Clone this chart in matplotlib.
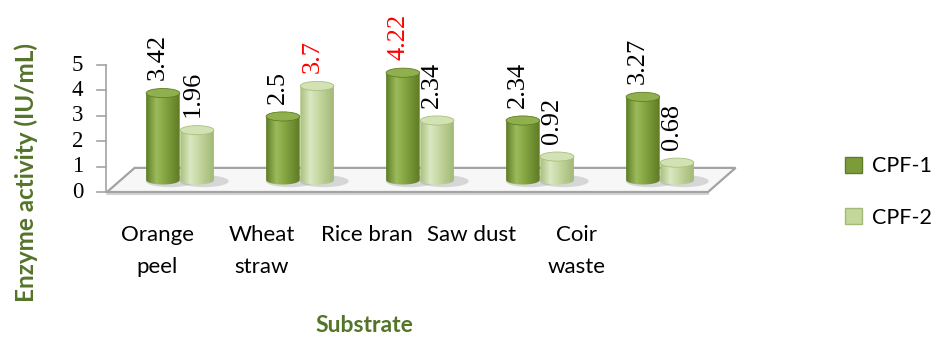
import numpy as np
import matplotlib
matplotlib.use('Agg')
import matplotlib.pyplot as plt
from matplotlib.patches import Polygon, Ellipse, Patch
from matplotlib.colors import to_rgb

substrates = ['Orange\npeel', 'Wheat\nstraw', 'Rice bran', 'Saw dust', 'Coir\nwaste']
cpf1 = [3.42, 2.5, 4.22, 2.34, 3.27]
cpf2 = [1.96, 3.7, 2.34, 0.92, 0.68]
series_names = ['CPF-1', 'CPF-2']
y_ticks = [0, 1, 2, 3, 4, 5]

SANS = 'Lato'
SERIF = 'Liberation Serif'
TITLE_GREEN = '#55742a'

# shading stops across each cylinder: (position, colour)
DARK_STOPS = [(0.0, '#5f7d26'), (0.3, '#9dbb5c'), (0.55, '#86a641'), (1.0, '#5e7b25')]
LIGHT_STOPS = [(0.0, '#a9c07c'), (0.3, '#dbe8c2'), (0.55, '#c6d8a2'), (1.0, '#a2b977')]
DARK_TOP = '#8fb04c'
LIGHT_TOP = '#d3e2b4'

BAR_W = 0.28
ELL_H = 0.36
DEPTH = 0.95          # floor depth in value units
BASE = DEPTH / 2      # bars stand in the middle of the floor


def gradient(stops, n=64):
    pos = [p for p, _ in stops]
    cols = np.array([to_rgb(c) for _, c in stops])
    xs = np.linspace(0, 1, n)
    img = np.stack([np.interp(xs, pos, cols[:, k]) for k in range(3)], axis=-1)
    return img[np.newaxis, :, :]


def cylinder(ax, xc, value, stops, top_color, z):
    y0 = BASE
    y1 = BASE + value
    # soft shadow on the floor
    ax.add_patch(Ellipse((xc + 0.06, y0 - 0.05), BAR_W * 1.45, ELL_H * 1.3,
                         facecolor='#9a9a9a', edgecolor='none', alpha=0.35, zorder=z - 0.5))
    t = np.linspace(np.pi, 2 * np.pi, 50)
    bx = xc + BAR_W / 2 * np.cos(t)
    by = y0 + ELL_H / 2 * np.sin(t)
    verts = list(zip(bx, by)) + [(xc + BAR_W / 2, y1), (xc - BAR_W / 2, y1)]
    body = Polygon(verts, closed=True, facecolor='none', edgecolor='none', zorder=z)
    ax.add_patch(body)
    im = ax.imshow(gradient(stops), extent=(xc - BAR_W / 2, xc + BAR_W / 2, y0 - ELL_H / 2, y1),
                   aspect='auto', interpolation='bilinear', zorder=z)
    im.set_clip_path(body)
    ax.add_patch(Ellipse((xc, y1), BAR_W, ELL_H, facecolor=top_color,
                         edgecolor=stops[0][1], lw=0.6, zorder=z + 0.1))


fig = plt.figure(figsize=(9.36, 3.39), dpi=100)
ax = fig.add_axes([0, 0, 1, 1])
ax.axis('off')

n = len(substrates)
x = np.arange(n)
x_front = -0.608
x_right = n - 1 + 0.4
skew = 0.23

# floor slab
floor = Polygon([(x_front, 0), (x_right, 0), (x_right + skew, DEPTH), (x_front + skew, DEPTH)],
                closed=True, facecolor='#f7f7f7', edgecolor='#a3a3a3', lw=1.6, zorder=1)
ax.add_patch(floor)
ax.plot([x_front, x_right], [-0.09, -0.09], color='#c8c8c8', lw=1.2, zorder=1)

# value axis
ax.plot([x_front - 0.01, x_front - 0.01], [0, y_ticks[-1]], color='#a3a3a3', lw=1.2, zorder=1)
for t in y_ticks:
    ax.plot([x_front - 0.085, x_front - 0.01], [t, t], color='#a3a3a3', lw=1.2, zorder=1)
    ax.text(x_front - 0.2, t, str(t), ha='right', va='center', fontsize=16.5,
            family=SERIF, color='black')

# cylinders and value labels
for i in range(n):
    for k, (vals, stops, top) in enumerate([(cpf1, DARK_STOPS, DARK_TOP),
                                            (cpf2, LIGHT_STOPS, LIGHT_TOP)]):
        xc = x[i] + (k - 0.5) * (BAR_W + 0.005)
        v = vals[i]
        cylinder(ax, xc, v, stops, top, z=3 + i)
        color = 'red' if v == max(vals) else 'black'
        ax.text(xc - 0.04, BASE + v + 0.5, f'{v:g}', rotation=90, ha='center', va='bottom',
                fontsize=19, family=SERIF, color=color, zorder=10)

# category labels sit on the front plane
label_x = -0.19 + x * 0.873
for lx, name in zip(label_x, substrates):
    ax.text(lx, -1.28, name, ha='center', va='top', fontsize=16, family=SANS,
            linespacing=1.8, color='black')

ax.text(-1.283, 0.75, 'Enzyme activity (IU/mL)', rotation=90, ha='center', va='center',
        fontsize=17.5, fontweight='bold', family=SANS, color=TITLE_GREEN)
ax.text(1.54, -5.26, 'Substrate', ha='center', va='center', fontsize=16.5,
        fontweight='bold', family=SANS, color=TITLE_GREEN)

handles = [Patch(facecolor='#7c9c3a', edgecolor='#5f7d26', label=series_names[0]),
           Patch(facecolor='#c3d69b', edgecolor='#a2b977', label=series_names[1])]
fig.legend(handles=handles, loc='center left', bbox_to_anchor=(845 / 936, 1 - 192 / 339),
           frameon=False, handlelength=0.8, handleheight=0.8,
           handletextpad=0.45, labelspacing=1.45, borderpad=0, borderaxespad=0,
           prop={'family': SANS, 'size': 15.5})

ax.set_xlim(-1.5, 6.3)
ax.set_ylim(-5.787, 7.559)

fig.savefig('out.png', dpi=100, facecolor='white')
